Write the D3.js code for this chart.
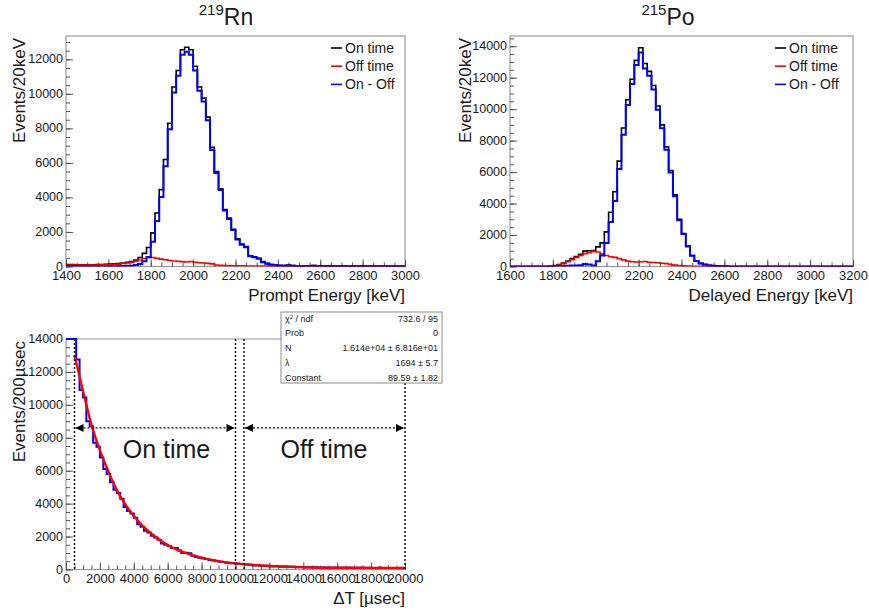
<!DOCTYPE html>
<html>
<head>
<meta charset="utf-8">
<script src="https://cdn.jsdelivr.net/npm/d3@7"></script>
<style>
  html, body { margin: 0; padding: 0; background: #fff; }
  svg { display: block; font-family: "Liberation Sans", Arial, Helvetica, sans-serif; }
</style>
</head>
<body>
<svg id="chart" width="869" height="615"></svg>
<script>
// 219Rn prompt energy, 20 keV bins starting at 1400 keV
const rnBinStart = 1400;
const rnBinWidth = 20;
const rnOnTime = [
  120, 110, 100, 90, 100, 90, 100, 110, 110, 130,
  140, 150, 170, 200, 240, 290, 380, 520, 760, 1100,
  1950, 3100, 4450, 6200, 8300, 10400, 11350, 12550, 12700, 12550,
  11600, 10400, 9750, 8650, 6900, 5500, 4500, 3300, 2800, 2150,
  1600, 1300, 1150, 620, 560, 480, 280, 180, 120, 90,
  70, 60, 80, 60, 40, 40, 30, 40, 50, 30,
  30, 20, 30, 20, 20, 20, 10, 20, 10, 20,
  10, 10, 20, 10, 10, 20, 10, 10, 10, 10
];
const rnOffTime = [
  90, 80, 80, 70, 80, 80, 80, 90, 100, 110,
  110, 130, 140, 170, 200, 240, 300, 380, 460, 560,
  520, 470, 430, 390, 350, 320, 300, 280, 260, 290,
  250, 220, 200, 180, 150, 90, 70, 60, 50, 40,
  40, 40, 30, 30, 30, 30, 30, 20, 20, 20,
  20, 20, 20, 20, 20, 10, 10, 10, 10, 10,
  10, 10, 10, 0, 0, 0, 0, 0, 0, 0,
  0, 0, 0, 0, 0, 0, 0, 0, 0, 0
];
const rnOnMinusOff = [
  30, 30, 20, 20, 20, 10, 20, 20, 10, 20,
  30, 20, 30, 30, 40, 50, 80, 140, 300, 540,
  1430, 2630, 4020, 5810, 7950, 10080, 11050, 12270, 12440, 12260,
  11350, 10180, 9550, 8470, 6750, 5410, 4430, 3240, 2750, 2110,
  1560, 1260, 1120, 590, 530, 450, 250, 160, 100, 70,
  50, 40, 60, 40, 20, 30, 20, 30, 40, 20,
  20, 10, 20, 20, 20, 20, 10, 20, 10, 20,
  10, 10, 20, 10, 10, 20, 10, 10, 10, 10
];
const rnTicksX = [1400, 1600, 1800, 2000, 2200, 2400, 2600, 2800, 3000];
const rnTicksY = [0, 2000, 4000, 6000, 8000, 10000, 12000];

// 215Po delayed energy, 20 keV bins starting at 1600 keV
const poBinStart = 1600;
const poBinWidth = 20;
const poOnTime = [
  0, 0, 0, 0, 0, 0, 0, 0, 0, 20,
  60, 120, 220, 350, 500, 640, 780, 980, 1000, 1020,
  1250, 1500, 2200, 3450, 4750, 6700, 8800, 10600, 11900, 13100,
  13900, 12900, 12400, 11500, 10200, 9000, 7600, 6100, 4550, 3000,
  2100, 1300, 700, 360, 200, 120, 70, 40, 30, 20,
  10, 0, 0, 0, 0, 0, 0, 0, 0, 0,
  0, 0, 0, 0, 0, 0, 0, 0, 0, 0,
  0, 0, 0, 0, 0, 0, 0, 0, 0, 0
];
const poOffTime = [
  0, 0, 0, 0, 0, 0, 0, 0, 0, 20,
  50, 100, 190, 300, 440, 580, 700, 820, 880, 960,
  920, 800, 700, 620, 580, 500, 420, 340, 300, 290,
  300, 320, 270, 250, 240, 210, 180, 130, 90, 60,
  40, 30, 20, 10, 10, 0, 0, 0, 0, 0,
  0, 0, 0, 0, 0, 0, 0, 0, 0, 0,
  0, 0, 0, 0, 0, 0, 0, 0, 0, 0,
  0, 0, 0, 0, 0, 0, 0, 0, 0, 0
];
const poOnMinusOff = [
  0, 0, 0, 0, 0, 0, 0, 0, 0, 0,
  10, 20, 30, 50, 60, 60, 80, 160, 120, 60,
  330, 700, 1500, 2830, 4170, 6200, 8380, 10260, 11600, 12810,
  13600, 12580, 12130, 11250, 9960, 8790, 7420, 5970, 4460, 2940,
  2060, 1270, 680, 350, 190, 120, 70, 40, 30, 20,
  10, 0, 0, 0, 0, 0, 0, 0, 0, 0,
  0, 0, 0, 0, 0, 0, 0, 0, 0, 0,
  0, 0, 0, 0, 0, 0, 0, 0, 0, 0
];
const poTicksX = [1600, 1800, 2000, 2200, 2400, 2600, 2800, 3000, 3200];
const poTicksY = [0, 2000, 4000, 6000, 8000, 10000, 12000, 14000];

// time difference, 200 usec bins starting at 0
const dtBinStart = 0;
const dtBinWidth = 200;
const dtOnMinusOff = [
  14000, 14000, 14000, 12750, 10900, 10450, 9000, 8700, 7700, 7450,
  6800, 6100, 5800, 5300, 4850, 4650, 4300, 3800, 3550, 3400,
  3150, 2750, 2600, 2350, 2250, 2050, 1950, 1800, 1580, 1500,
  1430, 1300, 1300, 1150, 1000, 1020, 980, 830, 760, 720,
  670, 640, 580, 540, 520, 470, 460, 410, 380, 380,
  360, 330, 320, 300, 290, 250, 270, 230, 220, 230,
  200, 190, 200, 170, 180, 160, 170, 150, 140, 150,
  130, 140, 130, 130, 120, 125, 115, 120, 110, 115,
  110, 105, 110, 100, 105, 100, 95, 100, 95, 100,
  90, 95, 100, 90, 95, 90, 95, 85, 90, 90
];
// fit curve
const fitTime = [500, 750, 1000, 1250, 1500, 2000, 2500, 3000, 3500, 4000, 5000, 6000, 7000, 8000, 9000, 10000, 11000, 12000, 14000, 16000, 18000, 20000];
const fitValue = [13000, 11950, 10850, 9800, 8800, 7250, 5950, 4820, 3950, 3250, 2200, 1480, 1030, 720, 510, 370, 280, 210, 140, 110, 100, 95];
const dtTicksX = [0, 2000, 4000, 6000, 8000, 10000, 12000, 14000, 16000, 18000, 20000];
const dtTicksY = [0, 2000, 4000, 6000, 8000, 10000, 12000, 14000];
const windowLines = [500, 10000, 10500, 20000];
const onWindow = [500, 10000];
const offWindow = [10500, 20000];
const arrowLevel = 8600;

const statNames = ['χ2 / ndf', 'Prob', 'N', 'λ', 'Constant'];
const statValues = ['732.6 / 95', '0', '1.614e+04 ± 6.816e+01', '1694 ± 5.7', '89.59 ± 1.82'];

const legendNames = ['On time', 'Off time', 'On - Off'];
const legendColors = ['#000000', '#ff0000', '#0000ff'];

document.addEventListener('DOMContentLoaded', function () {
    const svg = d3.select('#chart');
    const frameColor = '#9a9a9a';
    const tickColor = '#555';
    const textColor = '#1a1a1a';

    svg.append('rect').attr('width', 869).attr('height', 615).attr('fill', '#fff');

    // turn a bin array into step points (last bin closed at its upper edge)
    function stepPoints(values, start, width) {
        const pts = values.map((v, i) => [start + i * width, v]);
        pts.push([start + values.length * width, values[values.length - 1]]);
        return pts;
    }

    function drawAxes(g, x, y, frame, opts) {
        // minor ticks
        g.append('g')
            .attr('transform', `translate(0,${frame.y1})`)
            .call(d3.axisBottom(x).tickValues(opts.minorX).tickSize(-4).tickFormat(''))
            .call(s => s.select('.domain').remove())
            .call(s => s.selectAll('line').attr('stroke', tickColor));
        g.append('g')
            .attr('transform', `translate(${frame.x0},0)`)
            .call(d3.axisLeft(y).tickValues(opts.minorY).tickSize(-4).tickFormat(''))
            .call(s => s.select('.domain').remove())
            .call(s => s.selectAll('line').attr('stroke', tickColor));

        // major ticks with labels
        g.append('g')
            .attr('transform', `translate(0,${frame.y1})`)
            .call(d3.axisBottom(x).tickValues(opts.ticksX).tickSizeInner(-7).tickSizeOuter(0).tickPadding(4.5).tickFormat(d3.format('d')))
            .call(s => s.select('.domain').remove())
            .call(s => s.selectAll('line').attr('stroke', tickColor))
            .call(s => s.selectAll('text').attr('fill', textColor).style('font-size', '13px'));
        g.append('g')
            .attr('transform', `translate(${frame.x0},0)`)
            .call(d3.axisLeft(y).tickValues(opts.ticksY).tickSizeInner(-7).tickSizeOuter(0).tickPadding(3).tickFormat(d3.format('d')))
            .call(s => s.select('.domain').remove())
            .call(s => s.selectAll('line').attr('stroke', tickColor))
            .call(s => s.selectAll('text').attr('fill', textColor).attr('dy', '0.28em').style('font-size', '12.5px'));

        // axis titles, ROOT style: flush with the frame ends
        g.append('text')
            .attr('x', frame.x1)
            .attr('y', frame.y1 + 34)
            .attr('text-anchor', 'end')
            .attr('fill', textColor)
            .style('font-size', '17px')
            .text(opts.xTitle);
        g.append('text')
            .attr('transform', `translate(${opts.yTitleX},${frame.y0 + 2}) rotate(-90)`)
            .attr('text-anchor', 'end')
            .attr('fill', textColor)
            .style('font-size', '17px')
            .text(opts.yTitle);
    }

    function drawTitle(g, cx, mass, symbol) {
        const t = g.append('text')
            .attr('x', cx)
            .attr('y', 25)
            .attr('text-anchor', 'middle')
            .attr('fill', textColor)
            .style('font-size', '23px');
        t.append('tspan').style('font-size', '15px').attr('dy', -10).text(mass);
        t.append('tspan').attr('dy', 10).text(symbol);
    }

    function drawEnergyPanel(opts) {
        const frame = opts.frame;
        const g = svg.append('g');
        const x = d3.scaleLinear().domain(opts.xDomain).range([frame.x0, frame.x1]);
        const y = d3.scaleLinear().domain([0, opts.yMax]).range([frame.y1, frame.y0]);

        const clipId = 'clip-' + opts.id;
        g.append('clipPath').attr('id', clipId)
            .append('rect')
            .attr('x', frame.x0).attr('y', frame.y0 - 1)
            .attr('width', frame.x1 - frame.x0).attr('height', frame.y1 - frame.y0 + 1);

        g.append('rect')
            .attr('x', frame.x0).attr('y', frame.y0)
            .attr('width', frame.x1 - frame.x0).attr('height', frame.y1 - frame.y0)
            .attr('fill', 'none').attr('stroke', frameColor).attr('stroke-width', 1.2);

        drawAxes(g, x, y, frame, opts);

        const line = d3.line()
            .x(d => x(d[0]))
            .y(d => y(d[1]))
            .curve(d3.curveStepAfter);

        const series = [
            { values: opts.on, color: legendColors[0], width: 1.6 },
            { values: opts.off, color: legendColors[1], width: 1.6 },
            { values: opts.diff, color: legendColors[2], width: 2 }
        ];
        series.forEach(s => {
            g.append('path')
                .datum(stepPoints(s.values, opts.binStart, opts.binWidth))
                .attr('clip-path', `url(#${clipId})`)
                .attr('fill', 'none')
                .attr('stroke', s.color)
                .attr('stroke-width', s.width)
                .attr('d', line);
        });

        // legend
        const leg = g.append('g').attr('transform', `translate(${opts.legendX},48)`);
        legendNames.forEach((name, i) => {
            leg.append('line')
                .attr('x1', 0).attr('x2', 11)
                .attr('y1', i * 18.2).attr('y2', i * 18.2)
                .attr('stroke', legendColors[i]).attr('stroke-width', 1.6);
            leg.append('text')
                .attr('x', 14).attr('y', i * 18.2 + 5)
                .attr('fill', textColor)
                .style('font-size', '14px')
                .text(name);
        });

        drawTitle(g, opts.titleX, opts.mass, opts.symbol);
    }

    drawEnergyPanel({
        id: 'rn',
        frame: { x0: 66, x1: 405, y0: 36, y1: 266.5 },
        xDomain: [1400, 3000],
        yMax: 13350,
        binStart: rnBinStart, binWidth: rnBinWidth,
        on: rnOnTime, off: rnOffTime, diff: rnOnMinusOff,
        ticksX: rnTicksX, ticksY: rnTicksY,
        minorX: d3.range(1400, 3001, 50), minorY: d3.range(0, 13350, 500),
        xTitle: 'Prompt Energy [keV]', yTitle: 'Events/20keV', yTitleX: 25,
        legendX: 331, titleX: 226, mass: '219', symbol: 'Rn'
    });

    drawEnergyPanel({
        id: 'po',
        frame: { x0: 510, x1: 853, y0: 36, y1: 266.5 },
        xDomain: [1600, 3200],
        yMax: 14650,
        binStart: poBinStart, binWidth: poBinWidth,
        on: poOnTime, off: poOffTime, diff: poOnMinusOff,
        ticksX: poTicksX, ticksY: poTicksY,
        minorX: d3.range(1600, 3201, 50), minorY: d3.range(0, 14650, 500),
        xTitle: 'Delayed Energy [keV]', yTitle: 'Events/20keV', yTitleX: 471,
        legendX: 775, titleX: 668, mass: '215', symbol: 'Po'
    });

    // ---- time difference panel ----
    const frame = { x0: 66, x1: 405, y0: 339, y1: 569.5 };
    const g = svg.append('g');
    const x = d3.scaleLinear().domain([0, 20000]).range([frame.x0, frame.x1]);
    const y = d3.scaleLinear().domain([0, 14000]).range([frame.y1, frame.y0]);

    g.append('clipPath').attr('id', 'clip-dt')
        .append('rect')
        .attr('x', frame.x0).attr('y', frame.y0 - 1)
        .attr('width', frame.x1 - frame.x0).attr('height', frame.y1 - frame.y0 + 1);

    g.append('path')
        .attr('d', `M${frame.x1},${frame.y0}H${frame.x0}V${frame.y1}H${frame.x1}`)
        .attr('fill', 'none').attr('stroke', frameColor).attr('stroke-width', 1.2);

    drawAxes(g, x, y, frame, {
        ticksX: dtTicksX, ticksY: dtTicksY,
        minorX: d3.range(0, 20001, 500), minorY: d3.range(0, 14001, 500),
        xTitle: 'ΔT [µsec]', yTitle: 'Events/200µsec', yTitleX: 25
    });

    g.append('path')
        .datum(stepPoints(dtOnMinusOff, dtBinStart, dtBinWidth))
        .attr('clip-path', 'url(#clip-dt)')
        .attr('fill', 'none')
        .attr('stroke', '#0000ff')
        .attr('stroke-width', 2)
        .attr('d', d3.line().x(d => x(d[0])).y(d => y(d[1])).curve(d3.curveStepAfter));

    g.append('path')
        .datum(fitTime.map((t, i) => [t, fitValue[i]]))
        .attr('fill', 'none')
        .attr('stroke', '#ff0000')
        .attr('stroke-width', 2.4)
        .attr('d', d3.line().x(d => x(d[0])).y(d => y(d[1])).curve(d3.curveMonotoneX));

    // time windows
    g.selectAll('.window-line')
        .data(windowLines)
        .enter()
        .append('line')
        .attr('class', 'window-line')
        .attr('x1', d => x(d)).attr('x2', d => x(d))
        .attr('y1', frame.y0).attr('y2', frame.y1)
        .attr('stroke', '#000')
        .attr('stroke-width', 1.4)
        .attr('stroke-dasharray', '2,2');

    svg.append('defs').append('marker')
        .attr('id', 'arrow')
        .attr('viewBox', '0 0 10 10')
        .attr('refX', 10).attr('refY', 5)
        .attr('markerUnits', 'userSpaceOnUse')
        .attr('markerWidth', 10).attr('markerHeight', 8)
        .attr('orient', 'auto-start-reverse')
        .append('path')
        .attr('d', 'M0,0L10,5L0,10Z')
        .attr('fill', '#000');

    [onWindow, offWindow].forEach(w => {
        g.append('line')
            .attr('x1', x(w[0]) + 1).attr('x2', x(w[1]) - 1)
            .attr('y1', y(arrowLevel)).attr('y2', y(arrowLevel))
            .attr('stroke', '#000')
            .attr('stroke-width', 1.4)
            .attr('stroke-dasharray', '2,2')
            .attr('marker-start', 'url(#arrow)')
            .attr('marker-end', 'url(#arrow)');
    });

    const windowLabels = [
        { text: 'On time', t: 5930 },
        { text: 'Off time', t: 15220 }
    ];
    g.selectAll('.window-label')
        .data(windowLabels)
        .enter()
        .append('text')
        .attr('class', 'window-label')
        .attr('x', d => x(d.t))
        .attr('y', 458)
        .attr('text-anchor', 'middle')
        .attr('fill', textColor)
        .style('font-size', '25px')
        .text(d => d.text);

    // fit statistics box
    const box = svg.append('g').attr('transform', 'translate(281,312)');
    box.append('rect')
        .attr('width', 161).attr('height', 71)
        .attr('fill', '#fff').attr('stroke', '#8a8a8a').attr('stroke-width', 1);
    statNames.forEach((name, i) => {
        const t = box.append('text')
            .attr('x', 4).attr('y', 9.5 + i * 14.75)
            .attr('fill', textColor)
            .style('font-size', '9px');
        if (i === 0) {
            t.append('tspan').text('χ');
            t.append('tspan').attr('dy', -3).style('font-size', '6px').text('2');
            t.append('tspan').attr('dy', 3).text(' / ndf');
        } else {
            t.text(name);
        }
        box.append('text')
            .attr('x', 157).attr('y', 9.5 + i * 14.75)
            .attr('text-anchor', 'end')
            .attr('fill', textColor)
            .style('font-size', '9px')
            .text(statValues[i]);
    });
});
</script>
</body>
</html>
